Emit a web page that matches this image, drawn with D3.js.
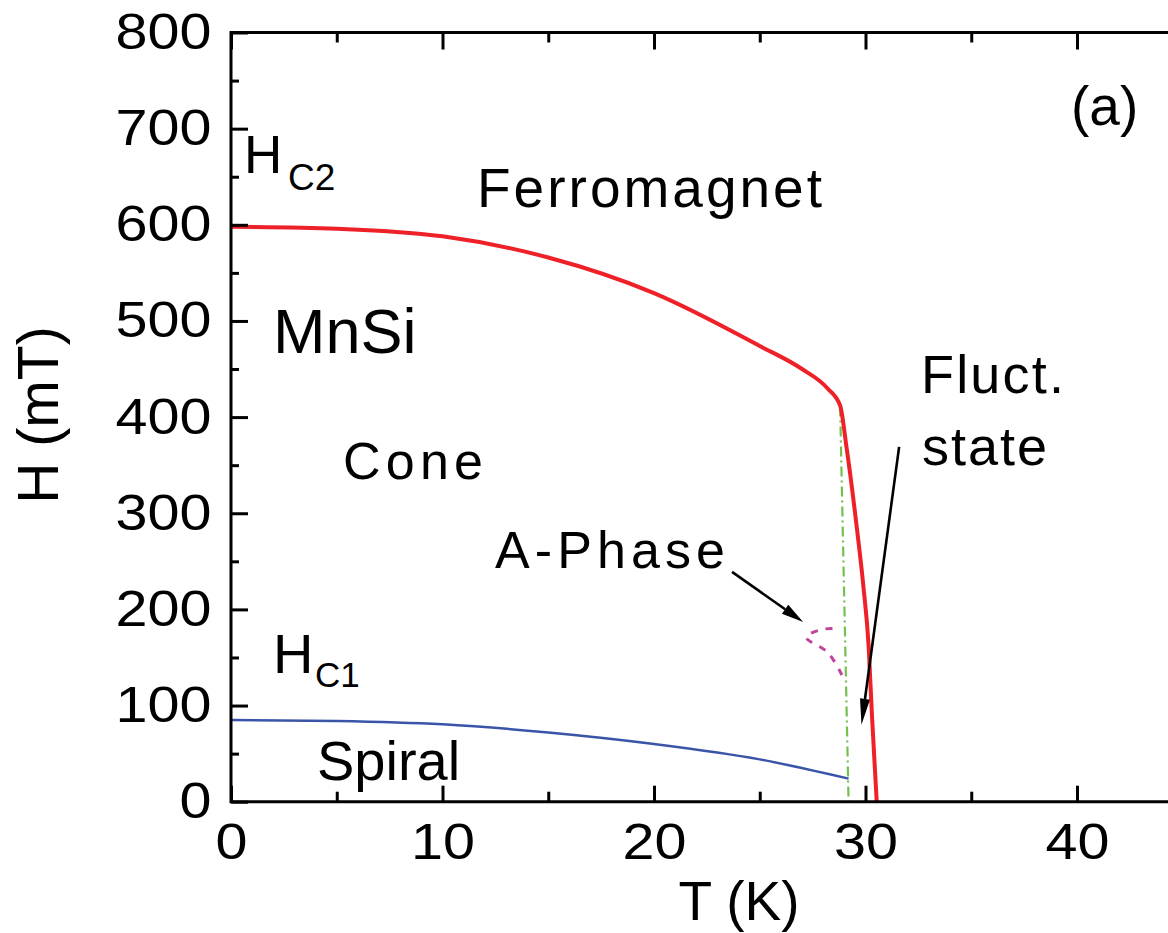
<!DOCTYPE html>
<html>
<head>
<meta charset="utf-8">
<script src="https://cdn.jsdelivr.net/npm/d3@7"></script>
<style>
  html, body { margin: 0; padding: 0; background: #fff; }
  text { font-family: "Liberation Sans", Arial, sans-serif; fill: #000; }
</style>
</head>
<body>
<svg id="chart" width="1168" height="933"></svg>
<script>
// ---- data ----
const xMajorTicks = [0, 10, 20, 30, 40];
const xMinorTicks = [5, 15, 25, 35, 45];
const yMajorTicks = [0, 100, 200, 300, 400, 500, 600, 700, 800];
const yMinorTicks = [50, 150, 250, 350, 450, 550, 650, 750];

// Hc2 boundary (red)
const hc2T = [0, 5, 10, 15, 20, 25, 27, 28.2, 28.8, 29.1, 29.6, 29.9, 30.15, 30.3, 30.53];
const hc2H = [598, 596, 588, 566, 529, 474, 450, 430, 412, 369, 283, 224, 161, 92, 0];

// Hc1 boundary (blue)
const hc1T = [0, 5, 10, 15, 20, 25, 29.2];
const hc1H = [85, 84, 80.5, 72, 60, 44, 24];

// Tc line (green dash-dot)
const tcT = [28.8, 29.2];
const tcH = [411, 0];

// A-phase boundary (magenta dashed)
const aT = [28.44, 27.9, 27.2, 28.23, 28.9];
const aH = [180, 179, 171, 155, 131];

// annotation arrows [fromT, fromH, toT, toH]
const arrowAPhase = [23.69, 239, 27.05, 187];
const arrowFluct = [31.59, 369, 29.81, 80];

// ---- chart ----
const svg = d3.select("#chart");
const X0 = 231, Y0 = 801.7, YTOP = 32.5;
const x = d3.scaleLinear().domain([0, 45]).range([X0, X0 + 45 * 21.15]);
const y = d3.scaleLinear().domain([0, 800]).range([Y0, YTOP]);

svg.append("rect").attr("width", 1168).attr("height", 933).attr("fill", "#fff");

const pts = (ts, hs) => ts.map((t, i) => [t, hs[i]]);
const mkLine = c => d3.line().x(d => x(d[0])).y(d => y(d[1])).curve(c);

// curves
svg.append("path")
  .attr("d", mkLine(d3.curveLinear)(pts(tcT, tcH)))
  .attr("fill", "none").attr("stroke", "#74c050").attr("stroke-width", 2.2)
  .attr("stroke-dasharray", "10,4,2,4");

svg.append("path")
  .attr("d", mkLine(d3.curveMonotoneX)(pts(hc1T, hc1H)))
  .attr("fill", "none").attr("stroke", "#3a55a8").attr("stroke-width", 2.5);

svg.append("path")
  .attr("d", mkLine(d3.curveMonotoneX)(pts(hc2T, hc2H)))
  .attr("fill", "none").attr("stroke", "#ee2128").attr("stroke-width", 4);

svg.append("path")
  .attr("d", mkLine(d3.curveCatmullRom.alpha(0.5))(pts(aT, aH)))
  .attr("fill", "none").attr("stroke", "#c0449c").attr("stroke-width", 3)
  .attr("stroke-dasharray", "7,8");

// arrows
function arrow(a, headLen, headW) {
  const x1 = x(a[0]), y1 = y(a[1]), x2 = x(a[2]), y2 = y(a[3]);
  const ang = Math.atan2(y2 - y1, x2 - x1);
  const bx = x2 - headLen * Math.cos(ang), by = y2 - headLen * Math.sin(ang);
  svg.append("line").attr("x1", x1).attr("y1", y1).attr("x2", bx).attr("y2", by)
    .attr("stroke", "#000").attr("stroke-width", 2.6);
  const px = -Math.sin(ang) * headW / 2, py = Math.cos(ang) * headW / 2;
  svg.append("path")
    .attr("d", `M${x2},${y2}L${bx + px},${by + py}L${bx - px},${by - py}Z`)
    .attr("fill", "#000");
}
arrow(arrowAPhase, 22, 11);
arrow(arrowFluct, 26, 10);

// axes
const axG = svg.append("g");
axG.append("g").attr("transform", `translate(0,${Y0})`)
  .call(d3.axisBottom(x).tickValues(xMajorTicks).tickSizeInner(-16).tickSizeOuter(0).tickPadding(22));
axG.append("g").attr("transform", `translate(0,${Y0})`)
  .call(d3.axisBottom(x).tickValues(xMinorTicks).tickSizeInner(-10).tickSizeOuter(0).tickFormat(""));
axG.append("g").attr("transform", `translate(0,${YTOP})`)
  .call(d3.axisTop(x).tickValues(xMajorTicks).tickSizeInner(-17).tickSizeOuter(0).tickFormat(""));
axG.append("g").attr("transform", `translate(0,${YTOP})`)
  .call(d3.axisTop(x).tickValues(xMinorTicks).tickSizeInner(-10).tickSizeOuter(0).tickFormat(""));
axG.append("g").attr("transform", `translate(${X0},0)`)
  .call(d3.axisLeft(y).tickValues(yMajorTicks).tickSizeInner(-17).tickSizeOuter(0).tickPadding(17));
axG.append("g").attr("transform", `translate(${X0},0)`)
  .call(d3.axisLeft(y).tickValues(yMinorTicks).tickSizeInner(-8).tickSizeOuter(0).tickFormat(""));

axG.selectAll(".domain").remove();
axG.selectAll(".tick line").attr("stroke", "#000").attr("stroke-width", 3);
axG.selectAll(".tick text").attr("font-size", 50).attr("font-family", "Liberation Sans, Arial, sans-serif")
  .attr("fill", "#000").attr("transform", "scale(1.15,1)");

// frame
svg.append("path")
  .attr("d", `M${x.range()[1]},${YTOP}H${X0}V${Y0}H${x.range()[1]}`)
  .attr("fill", "none").attr("stroke", "#000").attr("stroke-width", 3);

// axis titles
svg.append("text").attr("x", 739).attr("y", 920).attr("text-anchor", "middle")
  .attr("font-size", 55).text("T (K)");
svg.append("text").attr("transform", "translate(58,415) rotate(-90)").attr("text-anchor", "middle")
  .attr("font-size", 57).text("H (mT)");

// in-plot labels
function label(txt, tx, ty, size, len) {
  const t = svg.append("text").attr("x", tx).attr("y", ty).attr("font-size", size).text(txt);
  if (len) t.attr("textLength", len).attr("lengthAdjust", "spacing");
  return t;
}
const hc2 = svg.append("text").attr("x", 244).attr("y", 173).attr("font-size", 53);
hc2.append("tspan").text("H");
hc2.append("tspan").attr("x", 288).attr("y", 190).attr("font-size", 37).text("C2");

const hc1 = svg.append("text").attr("x", 273).attr("y", 673).attr("font-size", 56);
hc1.append("tspan").text("H");
hc1.append("tspan").attr("x", 315).attr("y", 687).attr("font-size", 35).text("C1");

label("Ferromagnet", 477, 207, 55, 345);
label("MnSi", 273, 353, 63);
label("Cone", 343, 479, 52, 140);
label("A-Phase", 495, 568, 52, 230);
label("Spiral", 317, 780, 56);
label("Fluct.", 921, 393, 54, 143);
label("state", 922, 465, 54, 125);
label("(a)", 1071, 125, 55);
</script>
</body>
</html>
